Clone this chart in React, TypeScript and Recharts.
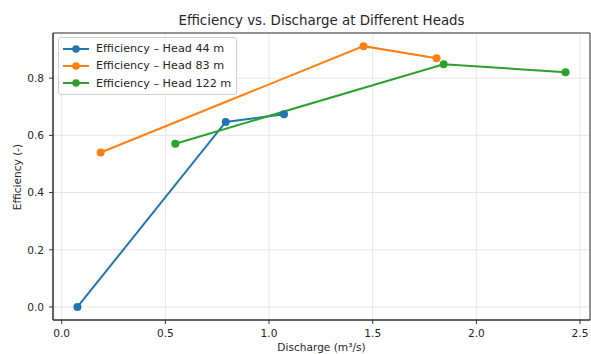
import React from 'react';
import {
  LineChart,
  Line,
  XAxis,
  YAxis,
  CartesianGrid,
  ReferenceArea,
} from 'recharts';

const head44 = [
  { q: 0.076, eff: 0.0 },
  { q: 0.791, eff: 0.647 },
  { q: 1.072, eff: 0.674 },
];
const head83 = [
  { q: 0.188, eff: 0.54 },
  { q: 1.456, eff: 0.912 },
  { q: 1.808, eff: 0.87 },
];
const head122 = [
  { q: 0.548, eff: 0.571 },
  { q: 1.842, eff: 0.849 },
  { q: 2.43, eff: 0.821 },
];
const xTicks = [0, 0.5, 1.0, 1.5, 2.0, 2.5];
const yTicks = [0, 0.2, 0.4, 0.6, 0.8];

const series = [
  { name: 'Efficiency – Head 44 m', data: head44, color: '#1f77b4' },
  { name: 'Efficiency – Head 83 m', data: head83, color: '#ff7f0e' },
  { name: 'Efficiency – Head 122 m', data: head122, color: '#2ca02c' },
];

const X_DOMAIN: [number, number] = [-0.042, 2.548];
const Y_DOMAIN: [number, number] = [-0.0456, 0.958];

const font = 'DejaVu Sans, sans-serif';
const tickStyle = { fontSize: 10.6, fill: '#262626', fontFamily: font };

const LegendBox = () => (
  <div
    style={{
      position: 'absolute',
      left: 58,
      top: 37,
      border: '1px solid #d0d0d0',
      borderRadius: 3,
      background: 'rgba(255,255,255,0.85)',
      padding: '2px 5px 2px 4px',
      fontFamily: font,
      fontSize: 11.2,
      color: '#262626',
    }}
  >
    {series.map((s) => (
      <div key={s.name} style={{ display: 'flex', alignItems: 'center', height: 17.3 }}>
        <svg width={26} height={10} style={{ marginRight: 7 }}>
          <line x1={0} y1={5} x2={26} y2={5} stroke={s.color} strokeWidth={2} />
          <circle cx={13} cy={5} r={3.8} fill={s.color} />
        </svg>
        <span>{s.name}</span>
      </div>
    ))}
  </div>
);

const App: React.FC = () => {
  return (
    <div style={{ position: 'absolute', left: 0, top: 0, width: 591, height: 354, background: '#fff', overflow: 'hidden' }}>
      <LineChart width={591} height={354} margin={{ top: 33, right: 1, bottom: 0, left: 0 }}>
        <CartesianGrid stroke="#e6e6e6" strokeWidth={1} />
        <XAxis
          type="number"
          dataKey="q"
          domain={X_DOMAIN}
          ticks={xTicks}
          allowDataOverflow
          tickFormatter={(v: number) => v.toFixed(1)}
          tick={tickStyle}
          tickSize={4}
          tickMargin={5}
          height={34}
          axisLine={{ stroke: '#333' }}
          tickLine={{ stroke: '#333' }}
        />
        <YAxis
          type="number"
          dataKey="eff"
          domain={Y_DOMAIN}
          ticks={yTicks}
          allowDataOverflow
          tickFormatter={(v: number) => v.toFixed(1)}
          tick={tickStyle}
          tickSize={4}
          tickMargin={5}
          width={53}
          axisLine={{ stroke: '#333' }}
          tickLine={{ stroke: '#333' }}
        />
        <ReferenceArea
          x1={X_DOMAIN[0]}
          x2={X_DOMAIN[1]}
          y1={Y_DOMAIN[0]}
          y2={Y_DOMAIN[1]}
          fill="none"
          stroke="#333"
          strokeWidth={1}
          ifOverflow="visible"
        />
        {series.map((s) => (
          <Line
            key={s.name}
            data={s.data}
            dataKey="eff"
            name={s.name}
            stroke={s.color}
            strokeWidth={2}
            dot={{ r: 4, fill: s.color, stroke: s.color, strokeWidth: 0 }}
            activeDot={false}
            isAnimationActive={false}
          />
        ))}
      </LineChart>
      <div
        style={{
          position: 'absolute',
          top: 13,
          left: 53,
          width: 537,
          textAlign: 'center',
          fontFamily: font,
          fontSize: 13.4,
          color: '#262626',
        }}
      >
        Efficiency vs. Discharge at Different Heads
      </div>
      <div
        style={{
          position: 'absolute',
          top: 341,
          left: 53,
          width: 537,
          textAlign: 'center',
          fontFamily: font,
          fontSize: 10.6,
          color: '#262626',
        }}
      >
        Discharge (m³/s)
      </div>
      <div
        style={{
          position: 'absolute',
          left: 17,
          top: 177,
          transform: 'translate(-50%, -50%) rotate(-90deg)',
          whiteSpace: 'nowrap',
          fontFamily: font,
          fontSize: 10.6,
          color: '#262626',
        }}
      >
        Efficiency (-)
      </div>
      <LegendBox />
    </div>
  );
};

export default App;
